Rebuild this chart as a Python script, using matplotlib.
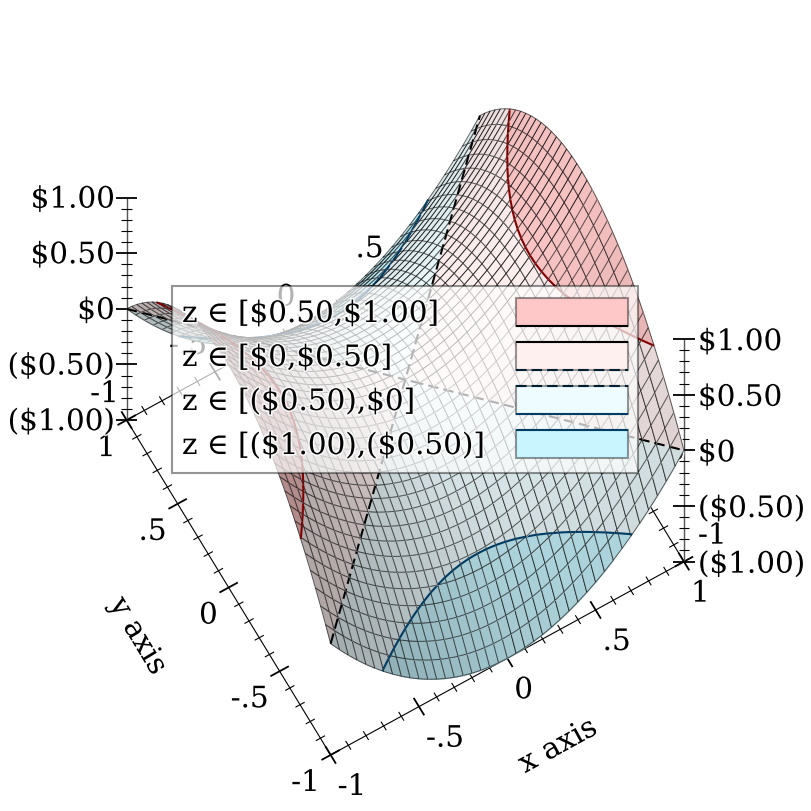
import numpy as np
import matplotlib
matplotlib.use("Agg")
import matplotlib.pyplot as plt
import matplotlib.patheffects as pe
from matplotlib.patches import Rectangle
from mpl_toolkits.mplot3d import proj3d
from mpl_toolkits.mplot3d.art3d import Poly3DCollection, Line3DCollection

plt.rcParams['font.family'] = ['DejaVu Serif']
plt.rcParams['text.parse_math'] = False
plt.rcParams['lines.scale_dashes'] = False

# sample positions along both horizontal axes
x_samples = [-1.0, -0.95, -0.9, -0.85, -0.8, -0.75, -0.7, -0.65, -0.6, -0.55, -0.5,
             -0.45, -0.4, -0.35, -0.3, -0.25, -0.2, -0.15, -0.1, -0.05, 0.0,
             0.05, 0.1, 0.15, 0.2, 0.25, 0.3, 0.35, 0.4, 0.45, 0.5,
             0.55, 0.6, 0.65, 0.7, 0.75, 0.8, 0.85, 0.9, 0.95, 1.0]
y_samples = list(x_samples)

# height read along the middle of the surface, one profile for each direction
z_along_x = [1.0, 0.9025, 0.81, 0.7225, 0.64, 0.5625, 0.49, 0.4225, 0.36, 0.3025, 0.25,
             0.2025, 0.16, 0.1225, 0.09, 0.0625, 0.04, 0.0225, 0.01, 0.0025, 0.0,
             0.0025, 0.01, 0.0225, 0.04, 0.0625, 0.09, 0.1225, 0.16, 0.2025, 0.25,
             0.3025, 0.36, 0.4225, 0.49, 0.5625, 0.64, 0.7225, 0.81, 0.9025, 1.0]
z_along_y = [-1.0, -0.9025, -0.81, -0.7225, -0.64, -0.5625, -0.49, -0.4225, -0.36, -0.3025, -0.25,
             -0.2025, -0.16, -0.1225, -0.09, -0.0625, -0.04, -0.0225, -0.01, -0.0025, 0.0,
             -0.0025, -0.01, -0.0225, -0.04, -0.0625, -0.09, -0.1225, -0.16, -0.2025, -0.25,
             -0.3025, -0.36, -0.4225, -0.49, -0.5625, -0.64, -0.7225, -0.81, -0.9025, -1.0]

band_levels = [-1.0, -0.5, 0.0, 0.5, 1.0]
band_colors = ['#c8f5ff', '#eefcff', '#fff0f0', '#ffc8c8']
contour_levels = [-0.5, 0.0, 0.5]
contour_colors = ['#003c64', '#000000', '#820000']
legend_labels = ['z ∈ [$0.50,$1.00]', 'z ∈ [$0,$0.50]', 'z ∈ [($0.50),$0]', 'z ∈ [($1.00),($0.50)]']

xy_major = [-1.0, -0.5, 0.0, 0.5, 1.0]
xy_labels = ['-1', '-.5', '0', '.5', '1']
xy_minor = [-0.9, -0.8, -0.7, -0.6, -0.4, -0.3, -0.2, -0.1, 0.1, 0.2, 0.3, 0.4, 0.6, 0.7, 0.8, 0.9]
z_major = [-1.0, -0.5, 0.0, 0.5, 1.0]
z_labels = ['($1.00)', '($0.50)', '$0', '$0.50', '$1.00']

elev = 71.4
azim = -120.0
z_aspect = 1.71
font_size = 21.2
dash_on = 7.6
dash_off = 3.6

halo = [pe.withStroke(linewidth=2.5, foreground='white', alpha=0.8)]

fig = plt.figure(figsize=(8.12, 8.12), dpi=100)
ax = fig.add_axes([0, 0, 1, 1], projection='3d', proj_type='ortho', computed_zorder=False)
ax.set_xlim(-1, 1)
ax.set_ylim(-1, 1)
ax.set_zlim(-1, 1)
ax.view_init(elev=elev, azim=azim)
ax.set_axis_off()

over = fig.add_axes([0, 0, 1, 1], zorder=5)
over.set_xlim(0, 812)
over.set_ylim(812, 0)
over.axis('off')


def to_px(x, y, z):
    xs, ys, _ = proj3d.proj_transform(np.atleast_1d(x), np.atleast_1d(y), np.atleast_1d(z), ax.get_proj())
    p = ax.transData.transform(np.column_stack([xs, ys]))
    return p[:, 0], 812 - p[:, 1]


# fit the box onto the figure, the far corners are 557 pixels apart
zoom = 1.0
ax.set_box_aspect((1, 1, z_aspect), zoom=zoom)
fig.canvas.draw()
px, py = to_px([-1, 1], [1, -1], [0, 0])
zoom = zoom * 557.3 / (px[1] - px[0])
ax.set_box_aspect((1, 1, z_aspect), zoom=zoom)
shift_x = 0.0
shift_y = 0.0
for _ in range(3):
    fig.canvas.draw()
    px, py = to_px([-1, 1], [1, -1], [0, 0])
    shift_x += (405.3 - px.mean()) / 812
    shift_y += (py.mean() - 380.6) / 812
    ax.set_position([shift_x, shift_y, 1, 1])
fig.canvas.draw()

xg = np.array(x_samples)
yg = np.array(y_samples)
zg = np.array(z_along_x)[:, None] + np.array(z_along_y)[None, :]
n = len(xg)

el = np.radians(elev)
az = np.radians(azim)
view_dir = np.array([np.cos(el) * np.cos(az), np.cos(el) * np.sin(az), np.sin(el)])
light = np.array([-0.45, 0.1, 0.89])
light = light / np.linalg.norm(light)


def clip_poly(pts, level, above):
    out = []
    for k in range(len(pts)):
        a = pts[k]
        b = pts[(k + 1) % len(pts)]
        ina = a[2] >= level if above else a[2] <= level
        inb = b[2] >= level if above else b[2] <= level
        if ina:
            out.append(a)
        if ina != inb:
            out.append(a + (level - a[2]) / (b[2] - a[2]) * (b - a))
    return out


def poly_area(pts):
    p = np.array(pts)
    return 0.5 * abs(np.dot(p[:, 0], np.roll(p[:, 1], 1)) - np.dot(p[:, 1], np.roll(p[:, 0], 1)))


def crossings(pts, level):
    out = []
    for k in range(4):
        a = pts[k]
        b = pts[(k + 1) % 4]
        if (a[2] >= level) != (b[2] >= level):
            out.append(a + (level - a[2]) / (b[2] - a[2]) * (b - a))
    return out


# back to front, so the fold near the left corner hides what is behind it
cells = []
for i in range(n - 1):
    for j in range(n - 1):
        c = np.array([[xg[i], yg[j], zg[i, j]], [xg[i + 1], yg[j], zg[i + 1, j]],
                      [xg[i + 1], yg[j + 1], zg[i + 1, j + 1]], [xg[i], yg[j + 1], zg[i, j + 1]]])
        cells.append((np.dot(c.mean(axis=0) * [1, 1, z_aspect], view_dir), i, j, c))
cells.sort(key=lambda item: item[0])

mesh_color = (0, 0, 0, 0.6)
for rank, (_, i, j, c) in enumerate(cells):
    dzdx = (c[1, 2] + c[2, 2] - c[0, 2] - c[3, 2]) / (2 * (xg[i + 1] - xg[i]))
    dzdy = (c[2, 2] + c[3, 2] - c[0, 2] - c[1, 2]) / (2 * (yg[j + 1] - yg[j]))
    normal = np.array([-dzdx, -dzdy, 1.0])
    normal = normal / np.linalg.norm(normal)
    shade = min(1.0, 0.71 + 0.31 * np.dot(normal, light))

    polys = []
    colors = []
    for k in range(4):
        part = clip_poly(list(c), band_levels[k], True)
        if len(part) >= 3:
            part = clip_poly(part, band_levels[k + 1], False)
        if len(part) >= 3 and poly_area(part) > 1e-7:
            polys.append(np.array(part))
            colors.append(np.array(matplotlib.colors.to_rgb(band_colors[k])) * shade)
    face = Poly3DCollection(polys, facecolors=colors, edgecolors=colors, linewidths=0.3)
    face.set_zorder(10 + rank)
    face.set_clip_on(False)
    ax.add_collection3d(face, autolim=False)

    segs = [c[[0, 1]], c[[1, 2]], c[[2, 3]], c[[3, 0]]]
    seg_colors = [mesh_color] * 4
    seg_widths = [0.7] * 4
    seg_styles = ['solid'] * 4
    for level, col in zip(contour_levels, contour_colors):
        pts = crossings(c, level)
        for m in range(0, len(pts) - 1, 2):
            a, b = pts[m], pts[m + 1]
            style = 'solid'
            if level == 0.0:
                # both zero lines are straight on screen, keep the dashes in step from cell to cell
                if a[0] > b[0]:
                    a, b = b, a
                y_start = -1.0 if abs(a[0] - a[1]) < 1e-6 else 1.0
                sx, sy = to_px(-1.0, y_start, 0.0)
                ax_, ay_ = to_px(a[0], a[1], 0.0)
                dist = np.hypot(ax_[0] - sx[0], ay_[0] - sy[0]) * 72.0 / 100.0
                style = (dist % (dash_on + dash_off), (dash_on, dash_off))
            segs.append(np.array([a, b]))
            seg_colors.append(col)
            seg_widths.append(1.5)
            seg_styles.append(style)
    lines = Line3DCollection(segs, colors=seg_colors, linewidths=seg_widths, linestyles=seg_styles)
    lines.set_zorder(10 + rank + 0.5)
    lines.set_clip_on(False)
    ax.add_collection3d(lines, autolim=False)


# axes, all of them sit behind the surface
def add_ticks(segs, width, color='black'):
    col = Line3DCollection(segs, colors=color, linewidths=width)
    col.set_zorder(1)
    col.set_clip_on(False)
    ax.add_collection3d(col, autolim=False)


major_len = 0.052
minor_len = 0.026
for y0 in [-1.0, 1.0]:
    x_line = [[(-1, y0, -1), (1, y0, -1)]]
    add_ticks(np.array(x_line), 0.8)
    add_ticks(np.array([[(t, y0 - major_len, -1), (t, y0 + major_len, -1)] for t in xy_major]), 1.3)
    add_ticks(np.array([[(t, y0 - minor_len, -1), (t, y0 + minor_len, -1)] for t in xy_minor]), 0.8)
for x0 in [-1.0, 1.0]:
    y_line = [[(x0, -1, -1), (x0, 1, -1)]]
    add_ticks(np.array(y_line), 0.8)
    add_ticks(np.array([[(x0 - major_len, t, -1), (x0 + major_len, t, -1)] for t in xy_major]), 1.3)
    add_ticks(np.array([[(x0 - minor_len, t, -1), (x0 + minor_len, t, -1)] for t in xy_minor]), 0.8)

# z ticks stay level on screen, which is this direction in the x-y plane
side = np.array([np.cos(np.radians(30)), -np.sin(np.radians(30)), 0.0])
for cx, cy in [(-1.0, 1.0), (1.0, -1.0)]:
    foot = np.array([cx, cy, 0.0])
    add_ticks(np.array([[(cx, cy, -1), (cx, cy, 1)]]), 1.0, '#555555')
    major = [[foot + [0, 0, t] - side * major_len, foot + [0, 0, t] + side * major_len] for t in z_major]
    minor = [[foot + [0, 0, t] - side * minor_len, foot + [0, 0, t] + side * minor_len] for t in xy_minor]
    add_ticks(np.array(major), 1.3)
    add_ticks(np.array(minor), 0.8)


def tick_label(x, y, z, text, dx, dy, ha):
    px, py = to_px(x, y, z)
    ax.text2D(px[0] + dx, py[0] + dy, text, transform=over.transData, ha=ha, va='center',
              fontsize=font_size, color='black', zorder=2, path_effects=halo)


for t, lab in zip(xy_major, xy_labels):
    tick_label(t, -1, -1, lab, 7, 32, 'left')
    tick_label(-1, t, -1, lab, -11, 28, 'right')
    tick_label(t, 1, -1, lab, -8, -26, 'right')
    tick_label(1, t, -1, lab, 14, -26, 'left')
for t, lab in zip(z_major, z_labels):
    tick_label(-1, 1, t, lab, -12, 2, 'right')
    tick_label(1, -1, t, lab, 14, 3, 'left')

over.text(558, 747, 'x axis', fontsize=font_size, rotation=28.8, ha='center', va='center', rotation_mode='anchor', path_effects=halo)
over.text(138, 637, 'y axis', fontsize=font_size, rotation=-58.9, ha='center', va='center', rotation_mode='anchor', path_effects=halo)

# legend
over.add_patch(Rectangle((172, 287), 466, 187, facecolor=(1, 1, 1, 0.7), edgecolor=(0, 0, 0, 0.42), linewidth=1.5))
legend_top = [299, 343, 387, 431]
legend_fill = band_colors[::-1]
legend_upper = [None, '#000000', '#001e32', '#003c64']
legend_lower = ['#000000', '#001e32', '#003c64', None]
upper_dash = [False, False, True, False]
lower_dash = [False, True, False, False]
for k in range(4):
    y0 = legend_top[k]
    over.text(182, y0 + 16, legend_labels[k], fontsize=font_size, va='center', ha='left', path_effects=halo)
    over.add_patch(Rectangle((516, y0), 112, 28, facecolor=legend_fill[k], edgecolor=(0, 0, 0, 0.4), linewidth=1.5))
    if legend_upper[k]:
        over.plot([516, 628], [y0, y0], color=legend_upper[k], lw=1.5,
                  linestyle=(0, (dash_on, dash_off)) if upper_dash[k] else '-', solid_capstyle='butt')
    if legend_lower[k]:
        over.plot([516, 628], [y0 + 28, y0 + 28], color=legend_lower[k], lw=1.5,
                  linestyle=(0, (dash_on, dash_off)) if lower_dash[k] else '-', solid_capstyle='butt')

fig.savefig('out.png', dpi=100)
